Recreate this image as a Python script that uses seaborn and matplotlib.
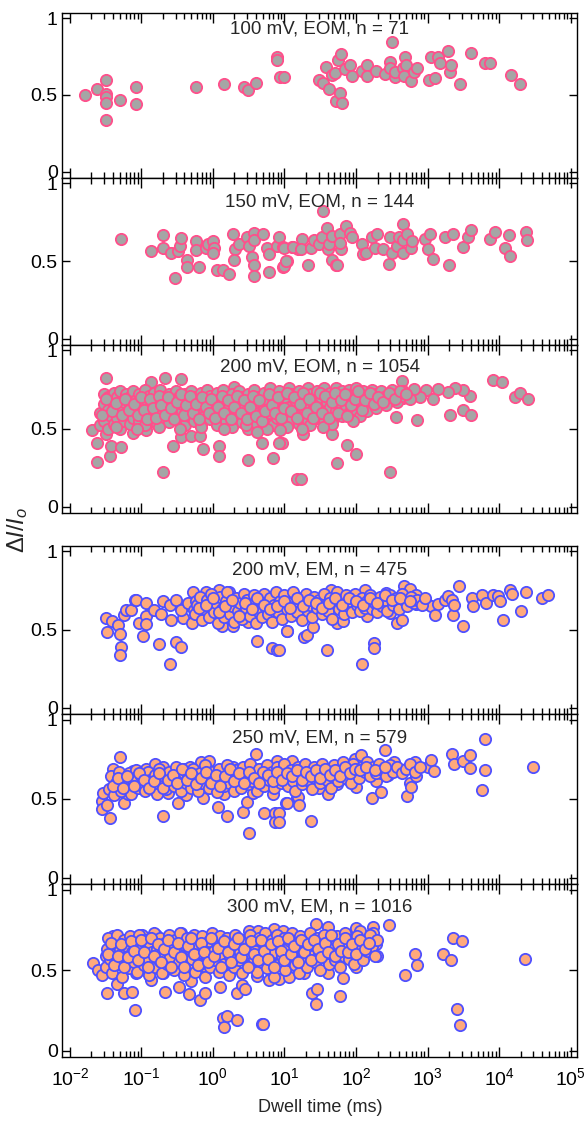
#import libraries
import numpy as np
import matplotlib
matplotlib.use("Agg")
import matplotlib.pyplot as plt
from matplotlib.ticker import FixedLocator, NullFormatter, LogFormatterSciNotation
import seaborn as sns

# values: (log10 dwell time in ms, delta I / I0)
eom_100 = [(-1.79,0.50),(-1.62,0.54),(-1.49,0.60),(-1.49,0.505),(-1.49,0.49),(-1.49,0.446),(-1.49,0.338),
    (-1.30,0.47),(-1.07,0.55),(-1.07,0.44),(-0.24,0.55),(0.15,0.57),(0.43,0.55),(0.49,0.53),(0.60,0.58),
    (0.89,0.745),(0.89,0.73),(0.94,0.62),(1.00,0.62),(1.48,0.60),(1.54,0.58),(1.58,0.684),(1.62,0.537),
    (1.66,0.63),(1.70,0.645),(1.72,0.46),(1.75,0.727),(1.77,0.51),(1.79,0.766),(1.81,0.45),(1.85,0.667),
    (1.92,0.695),(1.94,0.623),(2.08,0.658),(2.16,0.695),(2.16,0.623),(2.28,0.656),(2.41,0.636),(2.48,0.716),
    (2.50,0.846),(2.48,0.673),(2.55,0.615),(2.55,0.65),(2.66,0.673),(2.69,0.749),(2.70,0.695),(2.67,0.623),
    (2.77,0.59),(2.81,0.65),(2.85,0.673),(3.02,0.60),(3.05,0.745),(3.11,0.608),(3.14,0.745),(3.18,0.706),
    (3.28,0.788),(3.32,0.65),(3.33,0.695),(3.46,0.571),(3.61,0.775),(3.81,0.706),(3.87,0.706),(4.17,0.63),
    (4.30,0.571)]

eom_150 = [(-1.28,0.645),(-0.87,0.565),(-0.70,0.667),(-0.70,0.582),(-0.59,0.554),(-0.53,0.39),(-0.49,0.565),
    (-0.46,0.60),(-0.45,0.647),(-0.36,0.51),(-0.36,0.46),(-0.24,0.63),(-0.23,0.57),(-0.19,0.463),(-0.10,0.587),
    (-0.07,0.608),(0.0,0.63),(0.01,0.582),(0.0,0.554),(0.06,0.44),(0.14,0.44),(0.23,0.418),(0.28,0.673),
    (0.31,0.576),(0.30,0.506),(0.37,0.608),(0.47,0.652),(0.50,0.60),(0.54,0.528),(0.57,0.472),(0.58,0.403),
    (0.58,0.684),(0.58,0.636),(0.70,0.673),(0.75,0.587),(0.79,0.543),(0.79,0.43),(0.89,0.60),(0.93,0.652),
    (0.98,0.593),(0.98,0.463),(1.03,0.50),(1.10,0.593),(1.19,0.576),(0.99,0.468),(0.99,0.587),(1.02,0.50),
    (1.12,0.593),(1.25,0.645),(1.23,0.576),(1.33,0.478),(1.37,0.582),(1.42,0.636),(1.48,0.608),(1.52,0.652),
    (1.54,0.825),(1.59,0.716),(1.61,0.576),(1.62,0.608),(1.66,0.51),(1.67,0.662),(1.72,0.478),(1.74,0.472),
    (1.77,0.677),(1.79,0.576),(1.77,0.615),(1.86,0.727),(1.92,0.68),(1.94,0.656),(2.08,0.608),(2.10,0.543),
    (2.14,0.55),(2.22,0.656),(2.30,0.677),(2.27,0.587),(2.38,0.576),(2.46,0.483),(2.47,0.656),(2.50,0.554),
    (2.57,0.597),(2.60,0.652),(2.66,0.738),(2.66,0.554),(2.66,0.636),(2.71,0.673),(2.77,0.582),(2.79,0.63),
    (2.96,0.645),(3.00,0.576),(3.03,0.677),(3.08,0.515),(3.24,0.656),(3.30,0.478),(3.36,0.677),(3.49,0.593),
    (3.56,0.656),(3.61,0.699),(3.88,0.645),(3.94,0.688),(4.09,0.587),(4.14,0.671),(4.16,0.532),(4.38,0.688),
    (4.39,0.636)]

eom_200 = [(-1.69,0.49),(-1.62,0.407),(-1.62,0.284),(-1.49,0.825),(-1.49,0.465),(-1.44,0.327),(-1.42,0.39),
    (-1.28,0.38),(-1.35,0.526),(-1.12,0.47),(-0.93,0.493),(-0.86,0.797),(-0.70,0.223),(-0.67,0.825),(-0.56,0.39),
    (-0.44,0.818),(-0.44,0.444),(-0.30,0.45),(-0.18,0.45),(-0.14,0.37),(0.09,0.39),(0.09,0.327),(0.29,0.764),
    (0.49,0.30),(0.68,0.407),(0.84,0.31),(0.96,0.407),(1.17,0.175),(0.93,0.407),(1.23,0.175),(1.26,0.465),
    (1.66,0.465),(1.73,0.277),(1.88,0.396),(2.00,0.335),(2.48,0.223),(2.56,0.574),(2.85,0.552),(3.32,0.59),
    (3.49,0.617),(3.61,0.59),(3.60,0.71),(3.50,0.747),(3.38,0.758),(3.28,0.732),(3.15,0.753),(3.07,0.688),
    (2.98,0.747),(2.90,0.703),(2.81,0.753),(2.64,0.807),(2.66,0.695),(3.91,0.81),(4.04,0.80),(4.22,0.703),
    (4.29,0.725),(4.41,0.688),
    (-1.58,0.52),(-1.58,0.60),(-1.52,0.55),(-1.52,0.66),(-1.52,0.72),(-1.47,0.50),(-1.47,0.62),(-1.47,0.70),
    (-1.43,0.58),(-1.43,0.68),(-1.39,0.53),(-1.39,0.64),(-1.39,0.73),(-1.34,0.57),(-1.34,0.70),(-1.30,0.50),
    (-1.30,0.62),(-1.30,0.74),(-1.25,0.55),(-1.25,0.67),(-1.21,0.60),(-1.21,0.72),(-1.16,0.53),(-1.16,0.64),
    (-1.16,0.70),(-1.12,0.57),(-1.12,0.74),(-1.08,0.61),(-1.08,0.68),(-1.03,0.55),(-1.03,0.72),(-0.99,0.59),
    (-0.99,0.65),(-0.95,0.52),(-0.95,0.69),(-0.95,0.75),(-0.90,0.62),(-0.90,0.71),(-0.86,0.56),(-0.86,0.66),
    (-0.82,0.60),(-0.82,0.73),(-0.78,0.53),(-0.78,0.68),(-0.74,0.63),(-0.74,0.75),(-0.69,0.57),(-0.69,0.70),
    (-0.65,0.61),(-0.65,0.66),(-0.61,0.54),(-0.61,0.72),(-0.56,0.59),(-0.56,0.68),(-0.52,0.64),(-0.52,0.74),
    (-0.48,0.56),(-0.48,0.70),(-0.43,0.61),(-0.43,0.66),(-0.39,0.52),(-0.39,0.72),(-0.34,0.58),(-0.34,0.68),
    (-0.30,0.63),(-0.30,0.74),(-0.26,0.55),(-0.26,0.70),(-0.21,0.60),(-0.21,0.66),(-0.17,0.53),(-0.17,0.73),
    (-0.12,0.58),(-0.12,0.69),(-0.08,0.63),(-0.08,0.75),(-0.04,0.56),(-0.04,0.71),(0.01,0.61),(0.01,0.67),
    (0.05,0.52),(0.05,0.73),(0.10,0.58),(0.10,0.69),(0.14,0.63),(0.14,0.75),(0.18,0.55),(0.18,0.70),
    (0.23,0.60),(0.23,0.66),(0.27,0.51),(0.27,0.72),(0.32,0.57),(0.32,0.68),(0.36,0.62),(0.36,0.74),
    (0.41,0.54),(0.41,0.70),(0.45,0.59),(0.45,0.65),(0.49,0.50),(0.49,0.72),(0.54,0.56),(0.54,0.67),
    (0.58,0.61),(0.58,0.75),(0.62,0.53),(0.62,0.70),(0.67,0.58),(0.67,0.66),(0.71,0.63),(0.71,0.73),
    (0.76,0.55),(0.76,0.69),(0.80,0.60),(0.80,0.76),(0.84,0.52),(0.84,0.71),(0.89,0.57),(0.89,0.67),
    (0.93,0.62),(0.93,0.74),(0.98,0.54),(0.98,0.70),(1.02,0.59),(1.02,0.66),(1.06,0.64),(1.06,0.76),
    (1.11,0.56),(1.11,0.72),(1.15,0.61),(1.15,0.68),(1.20,0.53),(1.20,0.74),(1.24,0.58),(1.24,0.70),
    (1.28,0.63),(1.28,0.66),(1.33,0.55),(1.33,0.76),(1.37,0.60),(1.37,0.72),(1.42,0.65),(1.42,0.68),
    (1.46,0.57),(1.46,0.74),(1.51,0.62),(1.51,0.70),(1.55,0.54),(1.55,0.76),(1.59,0.59),(1.59,0.67),
    (1.64,0.64),(1.64,0.73),(1.68,0.56),(1.68,0.70),(1.72,0.61),(1.72,0.76),(1.77,0.66),(1.77,0.71),
    (1.81,0.58),(1.81,0.74),(1.86,0.63),(1.86,0.69),(1.90,0.60),(1.90,0.75),(1.95,0.66),(1.95,0.72),
    (2.00,0.62),(2.00,0.76),(2.05,0.58),(2.05,0.70),(2.10,0.65),(2.10,0.74),(2.16,0.61),(2.16,0.71),
    (2.22,0.67),(2.22,0.75),(2.28,0.63),(2.28,0.72),(2.35,0.69),(2.35,0.74),(2.42,0.65),(2.42,0.71),
    (2.50,0.70),(2.50,0.75),(2.58,0.67),(2.58,0.72),(2.66,0.71),(2.66,0.74),(2.75,0.69),
    (-1.36,0.51),(-1.06,0.50),(-0.76,0.51),(-0.46,0.50),(-0.16,0.51),(0.16,0.50),(0.46,0.52),(0.76,0.50),
    (1.04,0.51),(1.36,0.52),(1.66,0.53),(1.96,0.55),(0.62,0.48),(0.94,0.49),(1.24,0.50),(1.54,0.51),
    (-1.55,0.585),(-1.49,0.69),(-1.41,0.61),(-1.36,0.665),(-1.27,0.585),(-1.23,0.69),(-1.18,0.62),(-1.10,0.66),
    (-1.05,0.585),(-1.01,0.70),(-0.97,0.62),(-0.92,0.56),(-0.88,0.69),(-0.84,0.63),(-0.80,0.57),(-0.76,0.71),
    (-0.72,0.65),(-0.67,0.59),(-0.63,0.70),(-0.58,0.63),(-0.54,0.56),(-0.50,0.67),(-0.45,0.72),(-0.41,0.59),
    (-0.37,0.65),(-0.32,0.71),(-0.28,0.60),(-0.24,0.66),(-0.19,0.56),(-0.15,0.70),(-0.10,0.64),(-0.06,0.60),
    (-0.02,0.69),(0.03,0.57),(0.07,0.64),(0.12,0.71),(0.16,0.60),(0.21,0.68),(0.25,0.56),(0.30,0.64),
    (0.34,0.71),(0.39,0.60),(0.43,0.68),(0.47,0.56),(0.52,0.64),(0.56,0.71),(0.60,0.58),(0.65,0.68),
    (0.69,0.55),(0.73,0.61),(0.78,0.72),(0.82,0.65),(0.87,0.60),(0.91,0.70),(0.95,0.57),(1.00,0.63),
    (1.04,0.73),(1.09,0.61),(1.13,0.70),(1.17,0.57),(1.22,0.66),(1.26,0.73),(1.31,0.60),(1.35,0.69),
    (1.40,0.57),(1.44,0.64),(1.49,0.73),(1.53,0.60),(1.57,0.71),(1.62,0.57),(1.66,0.67),(1.70,0.73),
    (1.75,0.60),(1.79,0.68),(1.84,0.72),(1.88,0.58),(1.93,0.65),(1.98,0.69),(2.03,0.74),(2.08,0.62),
    (2.13,0.68),(2.19,0.73),(2.25,0.66),(2.31,0.70),(2.38,0.67),(2.46,0.73),(2.54,0.69),(2.62,0.74),
    (2.70,0.72)]

em_200 = [(-1.49,0.575),(-1.48,0.483),(-1.41,0.553),(-1.33,0.53),(-1.30,0.47),(-1.28,0.39),(-1.30,0.34),
    (-1.25,0.596),(-1.22,0.628),(-1.15,0.628),(-1.09,0.69),(-1.07,0.69),(-1.03,0.543),(-0.98,0.457),
    (-0.94,0.585),(-0.93,0.67),(-0.93,0.538),(-0.83,0.628),(-0.75,0.41),(-0.73,0.60),(-0.70,0.683),
    (-0.60,0.66),(-0.60,0.283),(-0.59,0.564),(-0.52,0.42),(-0.51,0.69),(-0.44,0.39),(-0.42,0.575),
    (-0.44,0.628),(-0.35,0.67),(-0.29,0.543),(-0.28,0.74),(-0.27,0.628),(-0.24,0.68),(-0.09,0.74),
    (-0.09,0.58),(0.0,0.638),(0.07,0.575),(0.09,0.755),(0.12,0.521),(0.22,0.74),(0.23,0.617),(0.28,0.521),
    (0.49,0.55),(0.61,0.43),(0.61,0.65),(0.82,0.383),(0.89,0.372),(0.84,0.606),(1.03,0.494),(1.07,0.69),
    (0.93,0.372),(1.03,0.49),(1.28,0.45),(1.31,0.465),(1.40,0.515),(1.59,0.372),(1.65,0.755),(1.74,0.543),
    (1.82,0.553),(1.96,0.638),(2.09,0.283),(2.12,0.755),(2.15,0.585),(2.25,0.415),(2.25,0.383),(2.32,0.69),
    (2.42,0.733),(2.47,0.606),(2.58,0.543),(2.64,0.564),(2.67,0.776),(2.69,0.67),(2.75,0.762),(2.84,0.72),
    (2.84,0.664),(2.99,0.664),(3.05,0.65),(3.10,0.596),(3.15,0.664),(3.24,0.69),(3.28,0.713),(3.34,0.69),
    (3.36,0.596),(3.37,0.66),(3.44,0.78),(3.50,0.521),(3.62,0.70),(3.63,0.65),(3.76,0.723),(3.82,0.67),
    (3.91,0.723),(3.98,0.713),(4.02,0.685),(4.05,0.564),(4.15,0.755),(4.18,0.728),(4.31,0.62),(4.38,0.74),
    (4.60,0.70),(4.69,0.72),
    (-0.25,0.60),(-0.22,0.66),(-0.18,0.71),(-0.15,0.56),(-0.12,0.63),(-0.08,0.69),(-0.05,0.58),(-0.02,0.73),
    (0.02,0.61),(0.04,0.67),(0.07,0.54),(0.10,0.71),(0.12,0.63),(0.15,0.58),(0.18,0.68),(0.20,0.74),
    (0.24,0.60),(0.26,0.65),(0.29,0.55),(0.32,0.70),(0.35,0.62),(0.38,0.67),(0.40,0.57),(0.43,0.73),
    (0.46,0.64),(0.48,0.69),(0.52,0.59),(0.55,0.66),(0.57,0.72),(0.60,0.54),(0.63,0.62),(0.66,0.68),
    (0.69,0.58),(0.72,0.73),(0.74,0.64),(0.77,0.60),(0.80,0.70),(0.83,0.55),(0.86,0.66),(0.88,0.74),
    (0.91,0.61),(0.94,0.68),(0.97,0.57),(1.00,0.72),(1.03,0.63),(1.06,0.67),(1.09,0.59),(1.12,0.74),
    (1.15,0.65),(1.18,0.61),(1.21,0.70),(1.24,0.56),(1.27,0.68),(1.30,0.73),(1.33,0.62),(1.36,0.66),
    (1.39,0.58),(1.42,0.71),(1.45,0.64),(1.48,0.69),(1.52,0.60),(1.55,0.73),(1.58,0.66),(1.61,0.62),
    (1.64,0.70),(1.67,0.57),(1.70,0.67),(1.73,0.74),(1.76,0.63),(1.79,0.69),(1.83,0.60),(1.86,0.72),
    (1.89,0.65),(1.92,0.68),(1.95,0.61),(1.99,0.73),(2.02,0.66),(2.05,0.62),(2.08,0.70),(2.12,0.64),
    (2.15,0.68),(2.19,0.72),(2.22,0.63),(2.26,0.67),(2.29,0.61),(2.33,0.71),(2.37,0.65),(2.40,0.69),
    (2.44,0.62),(2.48,0.72),(2.52,0.66),(2.56,0.70),(2.60,0.63),(2.64,0.73),(2.68,0.68),(2.72,0.65),
    (2.77,0.71),(2.81,0.67),(2.86,0.69),(2.92,0.66),(2.97,0.70),
    (-0.20,0.64),(-0.10,0.66),(0.00,0.70),(0.08,0.61),(0.17,0.65),(0.27,0.69),(0.36,0.59),(0.45,0.67),
    (0.54,0.63),(0.62,0.70),(0.71,0.66),(0.80,0.63),(0.90,0.65),(0.99,0.68),(1.08,0.64),(1.17,0.70),
    (1.26,0.65),(1.35,0.69),(1.44,0.67),(1.53,0.64),(1.62,0.67),(1.71,0.70),(1.80,0.66),(1.90,0.70),
    (2.00,0.68),(2.10,0.66),(2.20,0.70),(2.30,0.67),(2.40,0.72),(2.50,0.69),(2.62,0.70),(2.75,0.68)]

em_250 = [(-1.55,0.483),(-1.55,0.435),(-1.54,0.537),(-1.48,0.46),(-1.44,0.38),(-1.40,0.687),(-1.40,0.558),
    (-1.30,0.763),(-1.30,0.63),(-1.25,0.472),(-1.19,0.526),(-1.13,0.608),(-1.12,0.677),(-1.02,0.64),
    (-0.93,0.687),(-0.86,0.58),(-0.81,0.72),(-0.70,0.39),(-0.71,0.63),(-0.70,0.703),(-0.63,0.537),
    (-0.56,0.65),(-0.49,0.472),(-0.46,0.623),(-0.39,0.687),(-0.38,0.52),(-0.32,0.703),(-0.21,0.64),
    (-0.16,0.73),(-0.14,0.505),(-0.06,0.737),(-0.04,0.575),(0.07,0.445),(0.05,0.64),(0.16,0.526),(0.19,0.39),
    (0.21,0.677),(0.28,0.703),(0.37,0.635),(0.42,0.418),(0.47,0.478),(0.47,0.672),(0.51,0.285),(0.56,0.537),
    (0.60,0.785),(0.65,0.687),(0.71,0.407),(0.75,0.666),(0.84,0.53),(0.87,0.407),(0.87,0.35),(0.89,0.737),
    (0.93,0.60),(1.02,0.472),(1.05,0.64),(1.10,0.737),(1.17,0.505),(0.93,0.407),(0.93,0.35),(1.04,0.472),
    (1.19,0.51),(1.20,0.458),(1.37,0.357),(1.13,0.57),(1.27,0.645),(1.48,0.565),(1.61,0.53),(1.53,0.70),
    (1.74,0.59),(1.88,0.623),(2.00,0.573),(1.98,0.752),(2.07,0.773),(2.11,0.703),(2.19,0.666),(2.23,0.505),
    (2.28,0.61),(2.35,0.543),(2.35,0.66),(2.40,0.806),(2.45,0.65),(2.53,0.73),(2.72,0.515),(2.75,0.60),
    (2.77,0.575),(2.82,0.73),(2.84,0.645),(3.00,0.703),(3.05,0.745),(3.09,0.672),(3.34,0.785),(3.37,0.72),
    (3.50,0.74),(3.60,0.773),(3.60,0.694),(3.76,0.552),(3.81,0.875),(3.81,0.68),(4.47,0.703),
    (-1.45,0.56),(-1.42,0.64),(-1.38,0.52),(-1.35,0.60),(-1.32,0.67),(-1.28,0.55),(-1.25,0.62),(-1.22,0.58),
    (-1.18,0.66),(-1.15,0.53),(-1.12,0.61),(-1.08,0.68),(-1.05,0.57),(-1.01,0.64),(-0.98,0.60),(-0.95,0.55),
    (-0.91,0.67),(-0.88,0.62),(-0.85,0.58),(-0.81,0.65),(-0.78,0.53),(-0.75,0.69),(-0.71,0.60),(-0.68,0.64),
    (-0.65,0.56),(-0.61,0.67),(-0.58,0.61),(-0.55,0.58),(-0.51,0.70),(-0.48,0.63),(-0.45,0.55),(-0.41,0.66),
    (-0.38,0.60),(-0.35,0.64),(-0.31,0.57),(-0.28,0.69),(-0.25,0.62),(-0.21,0.55),(-0.18,0.66),(-0.15,0.60),
    (-0.11,0.71),(-0.08,0.63),(-0.05,0.57),(-0.01,0.67),(0.02,0.61),(0.05,0.54),(0.09,0.69),(0.12,0.63),
    (0.15,0.58),(0.19,0.71),(0.22,0.60),(0.25,0.66),(0.29,0.55),(0.32,0.68),(0.35,0.62),(0.39,0.57),
    (0.42,0.70),(0.45,0.64),(0.49,0.59),(0.52,0.72),(0.55,0.61),(0.59,0.66),(0.62,0.55),(0.65,0.69),
    (0.69,0.63),(0.72,0.58),(0.75,0.71),(0.79,0.62),(0.82,0.67),(0.85,0.57),(0.89,0.70),(0.92,0.64),
    (0.95,0.60),(0.99,0.72),(1.02,0.63),(1.05,0.58),(1.09,0.68),(1.12,0.61),(1.15,0.55),(1.19,0.70),
    (1.22,0.64),(1.25,0.59),(1.29,0.72),(1.32,0.62),(1.35,0.67),(1.39,0.56),(1.42,0.70),(1.45,0.64),
    (1.49,0.60),(1.52,0.72),(1.55,0.66),(1.59,0.62),(1.62,0.69),(1.65,0.57),(1.69,0.71),(1.72,0.65),
    (1.75,0.61),(1.79,0.68),(1.82,0.73),(1.86,0.63),(1.89,0.69),(1.93,0.60),(1.96,0.72),(2.00,0.66),
    (2.04,0.63),(2.08,0.70),(2.12,0.67),(2.16,0.73),(2.20,0.64),(2.24,0.70),(2.28,0.66),(2.32,0.72),
    (2.37,0.68),(2.42,0.64),(2.47,0.71),(2.52,0.67),(2.58,0.70),(2.64,0.66),(2.70,0.69),(2.76,0.72),
    (2.82,0.67),(2.90,0.70),
    (-1.40,0.58),(-1.33,0.63),(-1.26,0.57),(-1.20,0.64),(-1.10,0.58),(-1.03,0.66),(-0.96,0.62),(-0.90,0.57),
    (-0.83,0.61),(-0.76,0.66),(-0.70,0.57),(-0.63,0.62),(-0.56,0.65),(-0.50,0.60),(-0.43,0.69),(-0.36,0.62),
    (-0.30,0.66),(-0.23,0.59),(-0.16,0.63),(-0.10,0.67),(-0.03,0.60),(0.04,0.65),(0.10,0.58),(0.17,0.64),
    (0.24,0.69),(0.30,0.61),(0.37,0.66),(0.44,0.60),(0.50,0.67),(0.57,0.63),(0.64,0.60),(0.70,0.67),
    (0.77,0.65),(0.84,0.61),(0.90,0.67),(0.97,0.62),(1.04,0.66),(1.10,0.64),(1.17,0.68),(1.24,0.62),
    (1.30,0.67),(1.37,0.64),(1.44,0.68),(1.50,0.63),(1.57,0.69),(1.64,0.65),(1.71,0.68),(1.78,0.64),
    (1.84,0.70),(1.91,0.66),(1.98,0.69),(2.06,0.68),(2.14,0.70),(2.26,0.68),(2.40,0.70)]

em_300 = [(-1.68,0.543),(-1.61,0.50),(-1.55,0.468),(-1.49,0.585),(-1.48,0.355),(-1.44,0.51),(-1.40,0.71),
    (-1.34,0.415),(-1.24,0.355),(-1.13,0.365),(-1.09,0.25),(-1.07,0.479),(-1.16,0.65),(-0.99,0.72),(-0.97,0.56),
    (-0.86,0.44),(-0.86,0.632),(-0.79,0.715),(-0.70,0.483),(-0.67,0.367),(-0.61,0.585),(-0.57,0.681),
    (-0.47,0.392),(-0.44,0.73),(-0.33,0.351),(-0.33,0.568),(-0.30,0.432),(-0.18,0.313),(-0.11,0.355),
    (-0.10,0.52),(-0.07,0.67),(0.07,0.70),(0.10,0.392),(0.14,0.202),(0.15,0.145),(0.20,0.213),(0.33,0.19),
    (0.34,0.355),(0.40,0.41),(0.45,0.383),(0.51,0.745),(0.61,0.462),(0.63,0.745),(0.68,0.162),(0.70,0.162),
    (0.79,0.44),(0.86,0.755),(0.93,0.447),(0.98,0.745),(1.07,0.457),(1.19,0.504),(1.28,0.479),(1.38,0.355),
    (1.44,0.29),(1.45,0.383),(1.44,0.787),(1.61,0.766),(1.61,0.483),(1.77,0.34),(1.82,0.453),(2.00,0.521),
    (2.00,0.76),(2.05,0.745),(2.24,0.77),(2.24,0.73),(2.28,0.66),(2.30,0.585),(2.46,0.78),(2.68,0.468),
    (2.83,0.602),(2.85,0.532),(3.22,0.602),(3.33,0.564),(3.36,0.70),(3.48,0.68),(3.41,0.26),(3.46,0.16),
    (4.36,0.568),
    (-1.50,0.52),(-1.48,0.63),(-1.46,0.70),(-1.44,0.57),(-1.41,0.48),(-1.39,0.66),(-1.37,0.60),(-1.34,0.72),
    (-1.32,0.54),(-1.30,0.63),(-1.27,0.46),(-1.25,0.69),(-1.23,0.58),(-1.20,0.65),(-1.18,0.51),(-1.16,0.71),
    (-1.13,0.61),(-1.11,0.55),(-1.09,0.67),(-1.06,0.49),(-1.04,0.72),(-1.02,0.59),(-0.99,0.64),(-0.97,0.53),
    (-0.95,0.69),(-0.92,0.57),(-0.90,0.47),(-0.88,0.66),(-0.85,0.61),(-0.83,0.73),(-0.81,0.52),(-0.78,0.63),
    (-0.76,0.56),(-0.74,0.70),(-0.71,0.48),(-0.69,0.60),(-0.67,0.67),(-0.64,0.54),(-0.62,0.72),(-0.60,0.58),
    (-0.57,0.64),(-0.55,0.50),(-0.53,0.69),(-0.50,0.61),(-0.48,0.55),(-0.46,0.73),(-0.43,0.66),(-0.41,0.47),
    (-0.39,0.59),(-0.36,0.70),(-0.34,0.53),(-0.32,0.63),(-0.29,0.57),(-0.27,0.72),(-0.25,0.49),(-0.22,0.66),
    (-0.20,0.60),(-0.18,0.54),(-0.15,0.71),(-0.13,0.64),(-0.11,0.46),(-0.08,0.58),(-0.06,0.68),(-0.04,0.52),
    (-0.01,0.73),(0.01,0.62),(0.03,0.56),(0.06,0.67),(0.08,0.49),(0.10,0.71),(0.13,0.60),(0.15,0.54),
    (0.17,0.65),(0.20,0.70),(0.22,0.47),(0.24,0.58),(0.27,0.63),(0.29,0.52),(0.31,0.72),(0.34,0.66),
    (0.36,0.56),(0.38,0.61),(0.41,0.48),(0.43,0.69),(0.45,0.59),(0.48,0.64),(0.50,0.53),(0.52,0.72),
    (0.55,0.67),(0.57,0.57),(0.59,0.62),(0.62,0.49),(0.64,0.70),(0.66,0.60),(0.69,0.55),(0.71,0.66),
    (0.73,0.73),(0.76,0.51),(0.78,0.63),(0.80,0.58),(0.83,0.69),(0.85,0.46),(0.87,0.61),(0.90,0.72),
    (0.92,0.54),(0.94,0.65),(0.97,0.59),(0.99,0.70),(1.01,0.50),(1.04,0.63),(1.06,0.56),(1.08,0.68),
    (1.11,0.73),(1.13,0.60),(1.15,0.53),(1.18,0.66),(1.20,0.48),(1.22,0.71),(1.25,0.62),(1.27,0.57),
    (1.29,0.68),(1.32,0.52),(1.34,0.64),(1.36,0.73),(1.39,0.59),(1.41,0.66),(1.43,0.55),(1.46,0.70),
    (1.48,0.61),(1.50,0.50),(1.53,0.67),(1.55,0.72),(1.57,0.58),(1.60,0.63),(1.62,0.54),(1.64,0.69),
    (1.67,0.60),(1.69,0.65),(1.71,0.56),(1.74,0.71),(1.76,0.62),(1.78,0.52),(1.81,0.67),(1.83,0.59),
    (1.85,0.73),(1.88,0.64),(1.90,0.57),(1.92,0.69),(1.95,0.61),(1.97,0.54),(1.99,0.66),(2.02,0.71),
    (2.04,0.60),(2.07,0.64),(2.10,0.56),(2.13,0.68),(2.16,0.62),(2.19,0.72),(2.22,0.65),(2.26,0.59),
    (2.30,0.69),
    (-1.47,0.60),(-1.42,0.67),(-1.38,0.53),(-1.33,0.59),(-1.28,0.66),(-1.24,0.52),(-1.19,0.58),(-1.15,0.68),
    (-1.10,0.62),(-1.05,0.56),(-1.01,0.69),(-0.96,0.61),(-0.91,0.52),(-0.87,0.70),(-0.82,0.59),(-0.77,0.66),
    (-0.72,0.55),(-0.68,0.63),(-0.63,0.69),(-0.58,0.52),(-0.54,0.61),(-0.49,0.67),(-0.44,0.58),(-0.40,0.52),
    (-0.35,0.65),(-0.30,0.70),(-0.26,0.60),(-0.21,0.53),(-0.16,0.67),(-0.12,0.61),(-0.07,0.55),(-0.03,0.70),
    (0.02,0.59),(0.07,0.64),(0.11,0.52),(0.16,0.68),(0.21,0.61),(0.25,0.55),(0.30,0.66),(0.35,0.70),
    (0.39,0.58),(0.44,0.63),(0.49,0.52),(0.53,0.68),(0.58,0.60),(0.63,0.56),(0.67,0.69),(0.72,0.62),
    (0.77,0.57),(0.81,0.66),(0.86,0.52),(0.91,0.68),(0.95,0.62),(1.00,0.56),(1.05,0.70),(1.09,0.60),
    (1.14,0.65),(1.19,0.55),(1.23,0.69),(1.28,0.61),(1.33,0.66),(1.37,0.56),(1.42,0.69),(1.47,0.63),
    (1.51,0.58),(1.56,0.67),(1.61,0.61),(1.65,0.72),(1.70,0.59),(1.75,0.66),(1.79,0.62),(1.84,0.70),
    (1.89,0.61),(1.94,0.66),(2.00,0.60),(2.06,0.69),(2.12,0.63),(2.18,0.67)]

titles = ["100 mV, EOM, n = 71", "150 mV, EOM, n = 144", "200 mV, EOM, n = 1054",
          "200 mV, EM, n = 475", "250 mV, EM, n = 579", "300 mV, EM, n = 1016"]
panels = [eom_100, eom_150, eom_200, em_200, em_250, em_300]
decades = [-2, -1, 0, 1, 2, 3, 4, 5]

sns.set_style("ticks")
plt.rcParams['font.family'] = ['Liberation Sans', 'DejaVu Sans']
plt.rcParams['mathtext.fontset'] = 'custom'
plt.rcParams['mathtext.rm'] = 'Liberation Sans'
plt.rcParams['mathtext.it'] = 'Liberation Sans:italic'
plt.rcParams['mathtext.default'] = 'regular'
plt.rcParams['axes.linewidth'] = 1.0

W, H = 586, 1122
fig = plt.figure(figsize=(W / 100, H / 100), dpi=100)

# panel frames in pixels (top, bottom), with the gap between EOM and EM groups
tops = [12.7, 178, 345, 546, 714, 884]
bottoms = [178, 345, 513, 714, 884, 1057]
title_off = [16, 24, 22, 24, 24, 23]
left_px, right_px = 62, 577

major = [10.0 ** d for d in decades]
minor = [m * 10.0 ** d for d in decades[:-1] for m in range(2, 10)]

for i in range(6):
    ax = fig.add_axes([left_px / W, 1 - bottoms[i] / H, (right_px - left_px) / W, (bottoms[i] - tops[i]) / H])
    pts = panels[i]
    x = np.power(10.0, [p[0] for p in pts])
    y = [p[1] for p in pts]
    if i < 3:
        face, edge = "#a5a5a5", "#ff4f8b"
    else:
        face, edge = "#ffa97c", "#4f4fff"
    sns.scatterplot(x=x, y=y, ax=ax, s=66, color=face, edgecolor=edge, linewidth=1.3, zorder=3)
    ax.set_xscale('log')
    ax.set_xlim(10 ** -2.11, 10 ** 5.09)
    ax.set_ylim(-0.04, 1.035)
    ax.set_yticks([0, 0.5, 1])
    ax.set_yticklabels(['0', '0.5', '1'])
    ax.xaxis.set_major_locator(FixedLocator(major))
    ax.xaxis.set_minor_locator(FixedLocator(minor))
    ax.xaxis.set_major_formatter(LogFormatterSciNotation())
    ax.xaxis.set_minor_formatter(NullFormatter())
    ax.tick_params(which='both', direction='in', top=True, right=True, width=1.0, labelsize=14, colors='black')
    ax.tick_params(axis='x', which='major', length=7, pad=7, labelbottom=(i == 5))
    ax.tick_params(axis='x', which='minor', length=4.5)
    ax.tick_params(axis='y', which='major', length=6, pad=3)
    for sp in ax.spines.values():
        sp.set_visible(True)
        sp.set_color('black')
    ax.text(0.5, 1 - title_off[i] / (bottoms[i] - tops[i]), titles[i], transform=ax.transAxes,
            ha='center', va='center', fontsize=13.5)
    ax.set_xlabel('')
    ax.set_ylabel('')

fig.text(18 / W, 1 - 530 / H, r'$\Delta\mathit{I}/\mathit{I}_{\mathit{o}}$', rotation=90,
         ha='center', va='center', fontsize=17)
fig.text(320 / W, 1 - 1107 / H, 'Dwell time (ms)', ha='center', va='center', fontsize=13)

plt.savefig('out.png', dpi=100)
